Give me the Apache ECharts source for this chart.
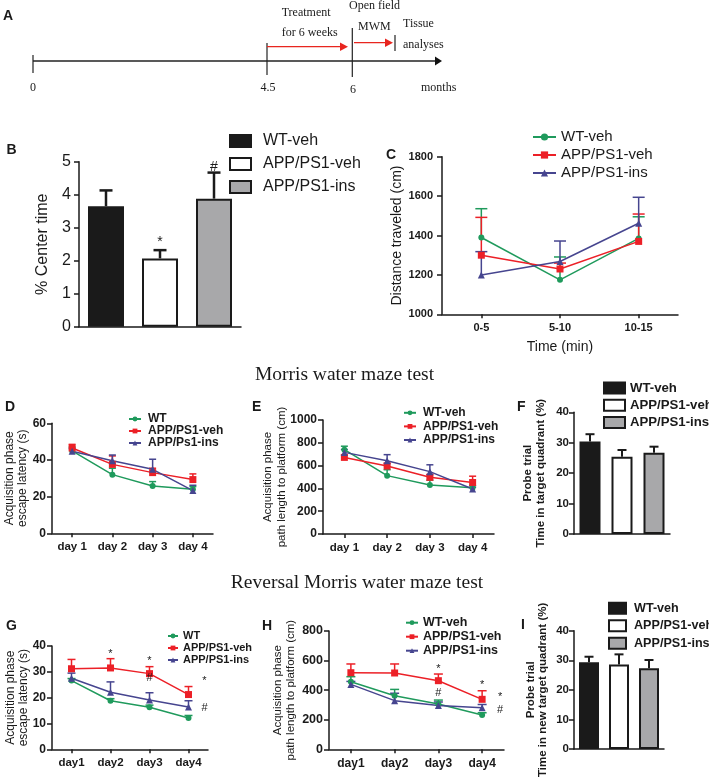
<!DOCTYPE html>
<html><head><meta charset="utf-8">
<script src="https://cdn.jsdelivr.net/npm/echarts@6/dist/echarts.min.js"></script>
<style>html,body{margin:0;padding:0;background:#fff}#c{width:709px;height:782px}</style>
</head><body><div id="c"></div>
<script>
// ================= DATA =================
// Panel A timeline
const timelineTicks = ['0', '4.5', '6'];
const timelineUnit = 'months';
const phaseTexts = ['Treatment', 'for 6 weeks', 'Open field', 'MWM', 'Tissue', 'analyses'];

// Panel B : % center time
const bCats = ['WT-veh', 'APP/PS1-veh', 'APP/PS1-ins'];
const bMeans = [3.65, 2.07, 3.88];
const bSems = [0.48, 0.25, 0.79];
const bYTicks = [0, 1, 2, 3, 4, 5];
const bMarks = [{i: 1, y: 2.55, t: '*'}, {i: 2, y: 4.85, t: '#'}];

// Panel C : distance traveled
const cCats = ['0-5', '5-10', '10-15'];
const cNames = ['WT-veh', 'APP/PS1-veh', 'APP/PS1-ins'];
const cWT = [1390, 1175, 1385];
const cWTsem = [146, 116, 110];
const cVeh = [1300, 1230, 1370];
const cVehSem = [192, 30, 139];
const cIns = [1200, 1268, 1462];
const cInsSem = [118, 104, 132];
const cYTicks = [1000, 1200, 1400, 1600, 1800];

// Panel D : escape latency (MWM)
const dCats = ['day 1', 'day 2', 'day 3', 'day 4'];
const dNames = ['WT', 'APP/PS1-veh', 'APP/Ps1-ins'];
const dWT = [45, 32, 25.8, 24];
const dWTsem = [2, 3.5, 2.4, 1.5];
const dVeh = [46.5, 37.6, 33.1, 29.3];
const dVehSem = [2, 4.6, 2.4, 3.1];
const dIns = [44.7, 39.6, 34.9, 23.3];
const dInsSem = [1.5, 3.1, 5.5, 2.9];
const dYTicks = [0, 20, 40, 60];

// Panel E : path length (MWM)
const eCats = ['day 1', 'day 2', 'day 3', 'day 4'];
const eNames = ['WT-veh', 'APP/PS1-veh', 'APP/PS1-ins'];
const eWT = [740, 512, 430, 405];
const eWTsem = [30, 52, 42, 20];
const eVeh = [672, 596, 497, 452];
const eVehSem = [20, 25, 25, 55];
const eIns = [716, 643, 547, 395];
const eInsSem = [25, 53, 60, 15];
const eYTicks = [0, 200, 400, 600, 800, 1000];

// Panel F : probe trial
const fCats = ['WT-veh', 'APP/PS1-veh', 'APP/PS1-ins'];
const fMeans = [30.4, 25.4, 26.7];
const fSems = [2.4, 2.2, 2.0];
const fYTicks = [0, 10, 20, 30, 40];

// Panel G : escape latency (reversal)
const gCats = ['day1', 'day2', 'day3', 'day4'];
const gNames = ['WT', 'APP/PS1-veh', 'APP/PS1-ins'];
const gWT = [26.6, 18.8, 16.3, 12.1];
const gWTsem = [0.8, 0.8, 0.8, 1.0];
const gVeh = [31.2, 31.5, 29.3, 21.2];
const gVehSem = [3.6, 3.6, 2.7, 3.1];
const gIns = [27.5, 22.1, 19.1, 16.4];
const gInsSem = [2.0, 4.0, 2.8, 2.4];
const gYTicks = [0, 10, 20, 30, 40];
const gMarks = [{i: 1, y: 36.9, t: '*'}, {i: 2, y: 34.3, t: '*'}, {i: 2, y: 27.6, t: '#'},
                {i: 3, y: 26.3, t: '*', right: true}, {i: 3, y: 16, t: '#', right: true}];

// Panel H : path length (reversal)
const hCats = ['day1', 'day2', 'day3', 'day4'];
const hNames = ['WT-veh', 'APP/PS1-veh', 'APP/PS1-ins'];
const hWT = [457, 362, 306, 232];
const hWTsem = [34, 43, 27, 15];
const hVeh = [518, 516, 464, 338];
const hVehSem = [59, 61, 45, 58];
const hIns = [439, 329, 297, 281];
const hInsSem = [20, 50, 23, 22];
const hYTicks = [0, 200, 400, 600, 800];
const hMarks = [{i: 2, y: 541, t: '*'}, {i: 2, y: 381, t: '#'}, {i: 3, y: 435, t: '*'},
                {i: 3, y: 356, t: '*', right: true}, {i: 3, y: 266, t: '#', right: true}];

// Panel I : probe trial (reversal)
const iCats = ['WT-veh', 'APP/PS1-veh', 'APP/PS1-ins'];
const iMeans = [29.3, 28.6, 27.3];
const iSems = [1.9, 3.4, 2.8];
const iYTicks = [0, 10, 20, 30, 40];

// ================= STYLE =================
const FONT = "'Liberation Sans', Arial, sans-serif";
const SERIF = "'Liberation Serif', 'Times New Roman', serif";
const INK = '#1a1a1a';
const GREEN = '#1f9a5c', RED = '#ec2027', BLUE = '#46458f';
const BAR_FILLS = ['#1a1a1a', '#ffffff', '#a8a8aa'];
const LINE_STYLES = [
  {color: GREEN, symbol: 'circle', size: 6},
  {color: RED, symbol: 'rect', size: 7},
  {color: BLUE, symbol: 'triangle', size: 7}
];

const option = {animation: false, backgroundColor: '#fff', grid: [], xAxis: [], yAxis: [], series: [], legend: [], graphic: []};

function errRender(color, capW, lw) {
  return function (params, api) {
    const x = api.value(0), lo = api.value(1), hi = api.value(2);
    const a = api.coord([x, lo]), b = api.coord([x, hi]);
    const st = {stroke: color, lineWidth: lw};
    return {type: 'group', children: [
      {type: 'line', shape: {x1: a[0], y1: a[1], x2: b[0], y2: b[1]}, style: st},
      {type: 'line', shape: {x1: b[0] - capW / 2, y1: b[1], x2: b[0] + capW / 2, y2: b[1]}, style: st}
    ]};
  };
}
function markSeries(gi, marks, fontSize, dx) {
  return {
    type: 'custom', xAxisIndex: gi, yAxisIndex: gi, silent: true, z: 5, clip: false,
    data: marks.map(m => [m.i, m.y]),
    encode: {x: 0, y: 1},
    renderItem: function (params, api) {
      const m = marks[params.dataIndex];
      const p = api.coord([api.value(0), api.value(1)]);
      return {type: 'text', x: p[0] + (m.right ? dx : 0), y: p[1],
        style: {text: m.t, fontSize: fontSize, fontFamily: FONT, fill: INK, align: 'center', verticalAlign: 'middle'}};
    }
  };
}
function addGrid(g) {
  option.grid.push(Object.assign({outerBoundsMode: 'none', containLabel: false}, g));
}
function yAxisDef(gi, ticks, lab, name, nameGap, nameStyle, margin) {
  return {
    type: 'value', gridIndex: gi, min: ticks[0], max: ticks[ticks.length - 1], interval: ticks[1] - ticks[0],
    axisLine: {show: true, lineStyle: {color: INK, width: 1.5}},
    axisTick: {show: true, length: 5, lineStyle: {color: INK, width: 1.5}},
    splitLine: {show: false},
    axisLabel: Object.assign({color: INK, fontFamily: FONT, margin: margin, formatter: v => String(v)}, lab),
    name: name, nameLocation: 'middle', nameGap: nameGap, nameMoveOverlap: false,
    nameTextStyle: Object.assign({color: INK, fontFamily: FONT, align: 'center'}, nameStyle)
  };
}
function xCatDef(gi, cats, showLabels, lab, extra) {
  return Object.assign({
    type: 'category', gridIndex: gi, data: cats, boundaryGap: true,
    axisLine: {show: true, lineStyle: {color: INK, width: 1.5}},
    axisTick: {show: showLabels, alignWithLabel: true, length: 4, lineStyle: {color: INK, width: 1.5}},
    axisLabel: Object.assign({show: showLabels, color: INK, fontFamily: FONT, margin: 8}, lab),
    splitLine: {show: false}
  }, extra || {});
}
function barPanel(gi, key, cats, means, sems, barW, capW, lw) {
  cats.forEach((c, i) => {
    option.series.push({
      type: 'bar', name: key + '|' + c, xAxisIndex: gi, yAxisIndex: gi, barWidth: barW, barGap: '-100%',
      data: means.map((v, j) => j === i ? v : '-'),
      itemStyle: {color: BAR_FILLS[i], borderColor: INK, borderWidth: 2}, z: 2
    });
  });
  option.series.push({
    type: 'custom', xAxisIndex: gi, yAxisIndex: gi, silent: true, z: 3, clip: false,
    data: means.map((m, i) => [i, m, m + sems[i]]), encode: {x: 0, y: [1, 2]},
    renderItem: errRender(INK, capW, lw)
  });
}
function linePanel(gi, key, names, groups, capW) {
  groups.forEach((g, k) => {
    const st = LINE_STYLES[k];
    option.series.push({
      type: 'custom', xAxisIndex: gi, yAxisIndex: gi, silent: true, z: 2, clip: false,
      data: g.m.map((m, i) => [i, m, m + g.s[i]]), encode: {x: 0, y: [1, 2]},
      renderItem: errRender(st.color, capW, 1.5)
    });
    option.series.push({
      type: 'line', name: key + '|' + names[k], xAxisIndex: gi, yAxisIndex: gi, data: g.m,
      symbol: st.symbol, symbolSize: st.size, showSymbol: true,
      itemStyle: {color: st.color}, lineStyle: {color: st.color, width: 1.5}, z: 3
    });
  });
}
function legendDef(key, names, l) {
  return Object.assign({
    data: names.map(n => key + '|' + n), orient: 'vertical', selectedMode: false,
    formatter: n => n.split('|')[1], padding: 0
  }, l);
}

// ---------- Panel B ----------
addGrid({left: 79, top: 161.7, width: 162, height: 165});
option.xAxis.push(xCatDef(0, bCats, false, {}));
option.yAxis.push(yAxisDef(0, bYTicks, {fontSize: 16}, '% Center time', 28, {fontSize: 16}, 8));
barPanel(0, 'B', bCats, bMeans, bSems, 36, 13, 2.5);
option.series.push(markSeries(0, bMarks, 14, 0));
option.legend.push(legendDef('B', bCats, {left: 229, top: 132, itemWidth: 21, itemHeight: 12, itemGap: 5, icon: 'rect',
  textStyle: {fontSize: 16, lineHeight: 18, fontFamily: FONT, color: INK, padding: [0, 0, 0, 7]}}));

// ---------- Panel C ----------
addGrid({left: 442, top: 156.7, width: 236, height: 157.6});
option.xAxis.push(xCatDef(1, cCats, true, {fontSize: 11, fontWeight: 'bold'},
  {name: 'Time (min)', nameLocation: 'middle', nameGap: 26, nameTextStyle: {fontSize: 14, fontFamily: FONT, color: INK}}));
option.yAxis.push(yAxisDef(1, cYTicks, {fontSize: 11, fontWeight: 'bold'}, 'Distance traveled (cm)', 38, {fontSize: 14}, 9));
linePanel(1, 'C', cNames, [{m: cWT, s: cWTsem}, {m: cVeh, s: cVehSem}, {m: cIns, s: cInsSem}], 12);
option.legend.push(legendDef('C', cNames, {left: 532, top: 129, itemWidth: 23, itemHeight: 9, itemGap: 2,
  textStyle: {fontSize: 15, lineHeight: 16, fontFamily: FONT, color: INK}}));

// ---------- Panel D ----------
addGrid({left: 52, top: 423.3, width: 161, height: 110});
option.xAxis.push(xCatDef(2, dCats, true, {fontSize: 11.5, fontWeight: 'bold'}));
option.yAxis.push(yAxisDef(2, dYTicks, {fontSize: 12, fontWeight: 'bold'}, 'Acquisition phase\nescape latency (s)', 23,
  {fontSize: 12, lineHeight: 13}, 6));
linePanel(2, 'D', dNames, [{m: dWT, s: dWTsem}, {m: dVeh, s: dVehSem}, {m: dIns, s: dInsSem}], 7);
option.legend.push(legendDef('D', dNames, {left: 128, top: 413, itemWidth: 12, itemHeight: 6, itemGap: 0,
  textStyle: {fontSize: 12, fontWeight: 'bold', lineHeight: 11.5, fontFamily: FONT, color: INK, padding: [0, 0, 0, 2]}}));

// ---------- Panel E ----------
addGrid({left: 323, top: 420, width: 171, height: 114});
option.xAxis.push(xCatDef(3, eCats, true, {fontSize: 11.5, fontWeight: 'bold'}));
option.yAxis.push(yAxisDef(3, eYTicks, {fontSize: 12, fontWeight: 'bold'}, 'Acquisition phase\npath length to platform (cm)', 34,
  {fontSize: 11.5, lineHeight: 14}, 6));
linePanel(3, 'E', eNames, [{m: eWT, s: eWTsem}, {m: eVeh, s: eVehSem}, {m: eIns, s: eInsSem}], 7);
option.legend.push(legendDef('E', eNames, {left: 403, top: 406, itemWidth: 12, itemHeight: 6, itemGap: 0,
  textStyle: {fontSize: 12, fontWeight: 'bold', lineHeight: 13.6, fontFamily: FONT, color: INK, padding: [0, 0, 0, 2]}}));

// ---------- Panel F ----------
addGrid({left: 574, top: 412.3, width: 96, height: 121.7});
option.xAxis.push(xCatDef(4, fCats, false, {}));
option.yAxis.push(yAxisDef(4, fYTicks, {fontSize: 11.5, fontWeight: 'bold'}, 'Probe trial\nTime in target quadrant (%)', 27,
  {fontSize: 11.5, fontWeight: 'bold', lineHeight: 13}, 5));
barPanel(4, 'F', fCats, fMeans, fSems, 21, 9, 2);
option.legend.push(legendDef('F', fCats, {left: 603, top: 380, itemWidth: 21, itemHeight: 11, itemGap: 1.2, icon: 'rect',
  textStyle: {fontSize: 13.2, fontWeight: 'bold', lineHeight: 16, fontFamily: FONT, color: INK}}));

// ---------- Panel G ----------
addGrid({left: 52, top: 646, width: 156, height: 103.3});
option.xAxis.push(xCatDef(5, gCats, true, {fontSize: 11.5, fontWeight: 'bold'}));
option.yAxis.push(yAxisDef(5, gYTicks, {fontSize: 12, fontWeight: 'bold'}, 'Acquisition phase\nescape latency (s)', 22,
  {fontSize: 12, lineHeight: 13}, 6));
linePanel(5, 'G', gNames, [{m: gWT, s: gWTsem}, {m: gVeh, s: gVehSem}, {m: gIns, s: gInsSem}], 8);
option.series.push(markSeries(5, gMarks, 11, 16));
option.legend.push(legendDef('G', gNames, {left: 167, top: 630, itemWidth: 10, itemHeight: 6, itemGap: 0,
  textStyle: {fontSize: 11, fontWeight: 'bold', lineHeight: 12, fontFamily: FONT, color: INK}}));

// ---------- Panel H ----------
addGrid({left: 329, top: 631, width: 175, height: 118.3});
option.xAxis.push(xCatDef(6, hCats, true, {fontSize: 12, fontWeight: 'bold'}));
option.yAxis.push(yAxisDef(6, hYTicks, {fontSize: 12.5, fontWeight: 'bold'}, 'Acquisition phase\npath length to platform (cm)', 32,
  {fontSize: 11.5, lineHeight: 13}, 6));
linePanel(6, 'H', hNames, [{m: hWT, s: hWTsem}, {m: hVeh, s: hVehSem}, {m: hIns, s: hInsSem}], 9);
option.series.push(markSeries(6, hMarks, 11, 18));
option.legend.push(legendDef('H', hNames, {left: 405, top: 615.7, itemWidth: 12, itemHeight: 6, itemGap: 0,
  textStyle: {fontSize: 12.5, fontWeight: 'bold', lineHeight: 14, fontFamily: FONT, color: INK}}));

// ---------- Panel I ----------
addGrid({left: 574, top: 630.7, width: 90, height: 118.3});
option.xAxis.push(xCatDef(7, iCats, false, {}));
option.yAxis.push(yAxisDef(7, iYTicks, {fontSize: 11.5, fontWeight: 'bold'}, 'Probe trial\nTime in new target quadrant (%)', 25,
  {fontSize: 11.5, fontWeight: 'bold', lineHeight: 12}, 5));
barPanel(7, 'I', iCats, iMeans, iSems, 20, 9, 2);
option.legend.push(legendDef('I', iCats, {left: 608, top: 600.3, itemWidth: 17, itemHeight: 11, itemGap: 1.5, icon: 'rect',
  textStyle: {fontSize: 12.6, fontWeight: 'bold', lineHeight: 16, fontFamily: FONT, color: INK, padding: [0, 0, 0, 3]}}));

// ---------- Panel A timeline + text (diagram) ----------
const G = option.graphic;
const ln = (x1, y1, x2, y2, c, w) => G.push({type: 'line', silent: true, shape: {x1, y1, x2, y2}, style: {stroke: c, lineWidth: w}});
const tri = (pts, c) => G.push({type: 'polygon', silent: true, shape: {points: pts}, style: {fill: c}});
const txt = (x, y, t, f) => G.push({type: 'text', silent: true, x, y, style: Object.assign({text: t, fill: INK, fontFamily: SERIF, fontSize: 12, verticalAlign: 'middle'}, f || {})});
const TL_RED = '#e8251f';
ln(33, 61, 436, 61, '#222', 1.3); tri([[435, 56.5], [442, 61], [435, 65.5]], '#111');
ln(33, 55, 33, 73, '#222', 1.2);
ln(267, 43, 267, 75, '#222', 1.2);
ln(352.3, 28, 352.3, 77, '#222', 1.2);
ln(395, 35, 395, 51, '#222', 1.2);
ln(267, 46.7, 342, 46.7, TL_RED, 1.3); tri([[340, 42.5], [348, 46.7], [340, 51]], TL_RED);
ln(354, 42.7, 387, 42.7, TL_RED, 1.3); tri([[385, 38.5], [393, 42.7], [385, 47]], TL_RED);
const tlX = [33, 268, 353];
const tlY = [88, 88, 90];
timelineTicks.forEach((t, i) => txt(tlX[i], tlY[i], t, {align: 'center'}));
txt(421, 88, timelineUnit);
const phX = [281.7, 281.7, 349, 358, 403, 403];
const phY = [13.3, 33.3, 6, 26.7, 24, 45];
phaseTexts.forEach((t, i) => txt(phX[i], phY[i], t));

// panel letters
const letters = [['A', 3, 16], ['B', 6.5, 150.5], ['C', 386, 155.5], ['D', 5, 406.7], ['E', 252, 406.7],
                 ['F', 517, 407], ['G', 6, 626], ['H', 262, 625.7], ['I', 521, 625]];
letters.forEach(l => txt(l[1], l[2], l[0], {fontFamily: FONT, fontWeight: 'bold', fontSize: 14}));
// section titles
txt(344.5, 375, 'Morris water maze test', {align: 'center', fontSize: 19.5});
txt(357, 583, 'Reversal Morris water maze test', {align: 'center', fontSize: 19.5});

const chart = echarts.init(document.getElementById('c'), null, {renderer: 'canvas'});
chart.setOption(option);
</script>
</body></html>
